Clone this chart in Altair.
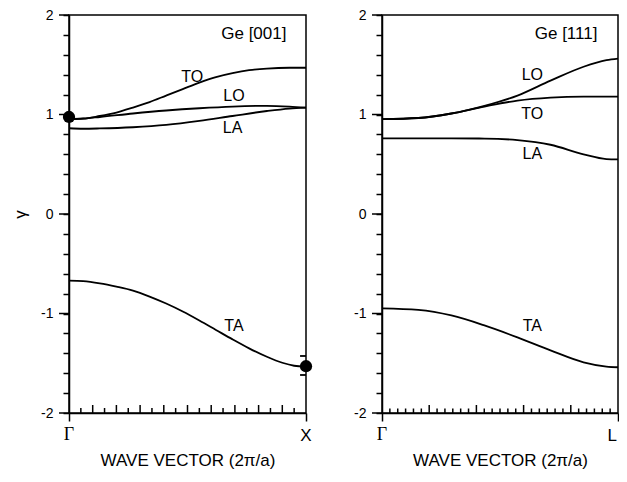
import altair as alt
import pandas as pd

# ---------------- data ----------------
# Left panel: Ge [001], Gamma -> X
l_TO_x = [0, 0.06, 0.13, 0.2, 0.27, 0.34, 0.41, 0.48, 0.55, 0.62, 0.69, 0.76, 0.835, 0.93, 1.0]
l_TO_y = [0.955, 0.958, 0.985, 1.02, 1.07, 1.125, 1.19, 1.255, 1.32, 1.375, 1.415, 1.445, 1.462, 1.47, 1.47]
l_LO_x = [0, 0.06, 0.13, 0.27, 0.41, 0.55, 0.69, 0.835, 0.93, 1.0]
l_LO_y = [0.955, 0.96, 0.975, 1.01, 1.04, 1.063, 1.08, 1.087, 1.08, 1.07]
l_LA_x = [0, 0.06, 0.13, 0.27, 0.41, 0.55, 0.69, 0.835, 0.93, 1.0]
l_LA_y = [0.862, 0.857, 0.86, 0.872, 0.895, 0.935, 0.985, 1.035, 1.06, 1.07]
l_TA_x = [0, 0.06, 0.13, 0.2, 0.27, 0.34, 0.41, 0.48, 0.55, 0.62, 0.69, 0.76, 0.835, 0.9, 0.95, 1.0]
l_TA_y = [-0.67, -0.675, -0.697, -0.73, -0.77, -0.83, -0.90, -0.98, -1.07, -1.165, -1.26, -1.35, -1.435, -1.495, -1.525, -1.535]

# Experimental points (left panel)
pt_x = [0, 1]
pt_y = [0.975, -1.53]
err_lo = -1.618
err_hi = -1.427

# Right panel: Ge [111], Gamma -> L
r_x = [0, 0.154, 0.294, 0.434, 0.574, 0.714, 0.854, 0.951, 1.0]
r_LO_y = [0.954, 0.965, 1.01, 1.087, 1.19, 1.34, 1.48, 1.546, 1.562]
r_TO_y = [0.954, 0.965, 1.01, 1.08, 1.14, 1.17, 1.18, 1.18, 1.18]
r_LA_y = [0.76, 0.76, 0.76, 0.758, 0.743, 0.696, 0.60, 0.552, 0.548]
r_TA_y = [-0.948, -0.964, -1.02, -1.12, -1.24, -1.37, -1.49, -1.533, -1.54]

# Branch labels
l_lab_text = ["TO", "LO", "LA", "TA"]
l_lab_x = [0.52, 0.696, 0.69, 0.696]
l_lab_y = [1.378, 1.19, 0.866, -1.13]
r_lab_text = ["LO", "TO", "LA", "TA"]
r_lab_x = [0.637, 0.637, 0.637, 0.637]
r_lab_y = [1.40, 1.002, 0.60, -1.13]

titles = ["Ge [001]", "Ge [111]"]
end_labels = [["Γ", "X"], ["Γ", "L"]]

y_tick_values = [-2, -1.8, -1.6, -1.4, -1.2, -1, -0.8, -0.6, -0.4, -0.2, 0,
                 0.2, 0.4, 0.6, 0.8, 1, 1.2, 1.4, 1.6, 1.8, 2]
y_major = [-2, -1, 0, 1, 2]
l_xticks = [k / 20 for k in range(1, 20)]
l_xticks_long = [k % 2 == 0 for k in range(1, 20)]
r_xticks = [k / 30 for k in range(1, 30)]
r_xticks_long = [k % 6 == 0 for k in range(1, 30)]

FONT = "Liberation Sans"
BLACK = "#000000"
H = 398
YPX = H / 4.0
LABEL_EXPR = "abs(datum.value - round(datum.value)) < 0.01 ? '' + round(datum.value) : ''"


def panel(curves, width, ticks, longs, long_len, short_len, labx, laby, labt,
          title, ends, show_ytitle, points=False, last_align="center"):
    frames = []
    for name, xs, ys in curves:
        frames.append(pd.DataFrame({"x": xs, "y": ys, "s": name}))
    df = pd.concat(frames, ignore_index=True)

    xscale = alt.Scale(domain=[0, 1], nice=False, zero=False)
    yscale = alt.Scale(domain=[-2, 2], nice=False, zero=False)

    xaxis = alt.Axis(values=[0, 1], labels=False, tickSize=8, tickWidth=1.5,
                     tickColor=BLACK, domainColor=BLACK, domainWidth=1.5,
                     grid=False, title="WAVE VECTOR (2π/a)", titleFont=FONT,
                     titleFontSize=17, titleFontWeight="normal", titlePadding=31,
                     titleColor=BLACK)
    yargs = dict(values=y_tick_values, labelExpr=LABEL_EXPR, labelOverlap=False,
                 labelFlush=False, tickSize=6, tickWidth=1.5, tickColor=BLACK,
                 domainColor=BLACK, domainWidth=1.5, grid=False, labelFont=FONT,
                 labelFontSize=14, labelColor=BLACK, labelPadding=10)
    if show_ytitle:
        yaxis = alt.Axis(title="γ", titleFont=FONT, titleFontSize=17,
                         titleFontWeight="normal", titleColor=BLACK,
                         titlePadding=11, **yargs)
    else:
        yaxis = alt.Axis(title=None, **yargs)

    X = lambda f="x:Q": alt.X(f, scale=xscale, axis=xaxis)
    Y = lambda f="y:Q": alt.Y(f, scale=yscale, axis=yaxis)

    lines = alt.Chart(df).mark_line(color=BLACK, strokeWidth=1.8,
                                    interpolate="monotone").encode(
        x=X(), y=Y(), detail="s:N")

    # major y ticks (longer, outward)
    ymaj = pd.DataFrame({"y": y_major})
    ymaj_rules = alt.Chart(ymaj).mark_rule(color=BLACK, strokeWidth=1.5).encode(
        x=alt.value(-10), x2=alt.value(0), y=Y())

    # bottom inward ticks
    tdf = pd.DataFrame({"x": ticks, "long": longs})
    tdf["y"] = -2.0
    tdf["y2"] = [-2.0 + (long_len if lg else short_len) / YPX for lg in longs]
    trules = alt.Chart(tdf).mark_rule(color=BLACK, strokeWidth=1.5).encode(
        x=X(), y=Y(), y2="y2:Q")

    # branch labels
    ldf = pd.DataFrame({"x": labx, "y": laby, "t": labt})
    labels = alt.Chart(ldf).mark_text(font=FONT, fontSize=16, color=BLACK,
                                      align="center", baseline="middle").encode(
        x=X(), y=Y(), text="t:N")

    # panel title
    tt = alt.Chart(pd.DataFrame({"x": [0.78], "y": [1.805], "t": [title]})).mark_text(
        font=FONT, fontSize=17, color=BLACK, align="center", baseline="middle").encode(
        x=X(), y=Y(), text="t:N")

    # end labels: Gamma (serif) and X / L
    g = alt.Chart(pd.DataFrame({"x": [0], "y": [-2], "t": [ends[0]]})).mark_text(
        font="Liberation Serif", fontSize=18, color=BLACK, align="center",
        baseline="middle", dy=22).encode(x=X(), y=Y(), text="t:N")
    e = alt.Chart(pd.DataFrame({"x": [1], "y": [-2], "t": [ends[1]]})).mark_text(
        font=FONT, fontSize=17, color=BLACK, align=last_align,
        baseline="middle", dy=23, dx=(-1 if last_align == "right" else 0)).encode(
        x=X(), y=Y(), text="t:N")

    layers = [lines, ymaj_rules, trules, labels, tt, g, e]

    if points:
        pdf = pd.DataFrame({"x": pt_x, "y": pt_y})
        dots = alt.Chart(pdf).mark_circle(color=BLACK, opacity=1, size=150).encode(
            x=X(), y=Y())
        edf = pd.DataFrame({"x": [0.975, 0.975], "x2": [1.0, 1.0], "y": [err_lo, err_hi]})
        caps = alt.Chart(edf).mark_rule(color=BLACK, strokeWidth=1.8).encode(
            x=X(), x2="x2:Q", y=Y())
        layers += [dots, caps]

    return alt.layer(*layers).properties(width=width, height=H)


left = panel([("TO", l_TO_x, l_TO_y), ("LO", l_LO_x, l_LO_y),
              ("LA", l_LA_x, l_LA_y), ("TA", l_TA_x, l_TA_y)],
             237, l_xticks, l_xticks_long, 8, 5, l_lab_x, l_lab_y, l_lab_text,
             titles[0], end_labels[0], True, points=True, last_align="center")
right = panel([("LO", r_x, r_LO_y), ("TO", r_x, r_TO_y),
               ("LA", r_x, r_LA_y), ("TA", r_x, r_TA_y)],
              236, r_xticks, r_xticks_long, 8, 4.5, r_lab_x, r_lab_y, r_lab_text,
              titles[1], end_labels[1], False, last_align="right")

chart = alt.hconcat(left, right, spacing=76, bounds="flush").properties(
    autosize=alt.AutoSizeParams(type="none"),
    padding={"left": 61, "top": 7, "right": 550, "bottom": 455},
    background="white",
).configure_view(stroke=BLACK, strokeWidth=1.5)

chart.save("out.html", embed_options={"renderer": "svg", "actions": False})
